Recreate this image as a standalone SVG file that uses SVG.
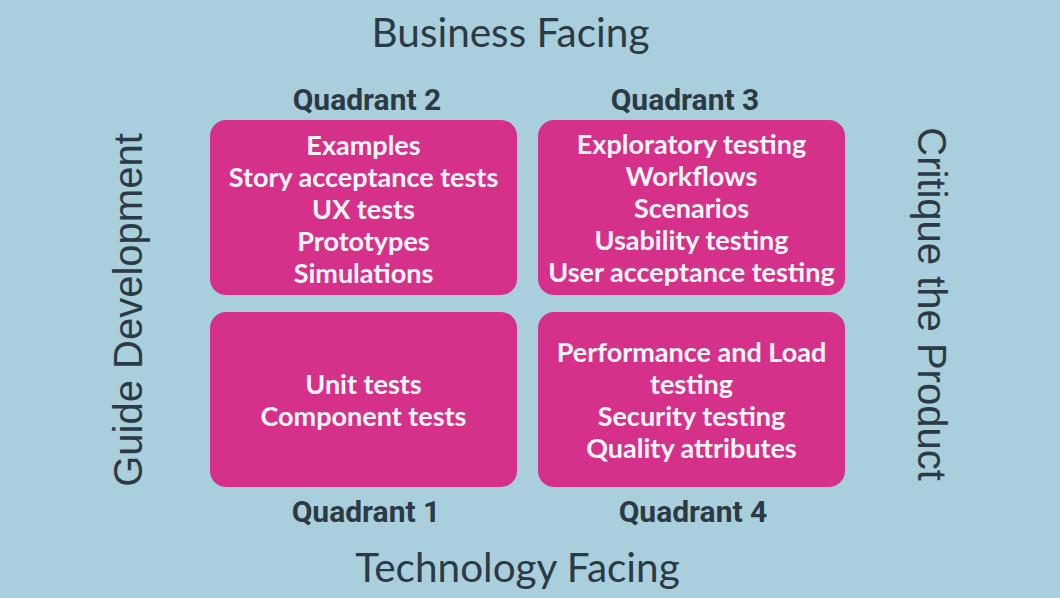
<svg xmlns="http://www.w3.org/2000/svg" width="1060" height="598" viewBox="0 0 1060 598">
<style>
.box{fill:#d6318a;}
.bt{font-family:Lato,"Noto Sans",sans-serif;font-weight:bold;font-size:27px;fill:#fff6fa;text-anchor:middle;}
.ql{font-family:Roboto,"Noto Sans",sans-serif;font-weight:bold;font-size:30px;fill:#2c3a45;text-anchor:middle;}
.ax{font-family:Lato,"Noto Sans",sans-serif;font-size:40.5px;fill:#2c3a45;text-anchor:middle;}
.sx{font-family:"Liberation Sans",Arial,sans-serif;font-size:40px;fill:#2c3a45;text-anchor:middle;}
</style>
<rect width="1060" height="598" fill="#a9cfdd"/>
<g id="axes">
<text class="ax" x="510.5" y="47">Business Facing</text>
<text class="ax" x="517.5" y="582">Technology Facing</text>
<text class="sx" transform="translate(142,310) rotate(-90)">Guide Development</text>
<text class="sx" transform="translate(918,304) rotate(90)" font-size="40.8">Critique the Product</text>
</g>
<g id="quadrant2">
<text class="ql" x="367" y="110">Quadrant 2</text>
<rect class="box" x="210" y="120" width="307" height="175" rx="16"/>
<text class="bt" x="363.5" y="155">Examples</text>
<text class="bt" x="363.5" y="187">Story acceptance tests</text>
<text class="bt" x="363.5" y="219">UX tests</text>
<text class="bt" x="363.5" y="251">Prototypes</text>
<text class="bt" x="363.5" y="283">Simulations</text>
</g>
<g id="quadrant3">
<text class="ql" x="685" y="110">Quadrant 3</text>
<rect class="box" x="538" y="120" width="307" height="175" rx="16"/>
<text class="bt" x="691.5" y="154">Exploratory testing</text>
<text class="bt" x="691.5" y="186">Workflows</text>
<text class="bt" x="691.5" y="218">Scenarios</text>
<text class="bt" x="691.5" y="250">Usability testing</text>
<text class="bt" x="691.5" y="282">User acceptance testing</text>
</g>
<g id="quadrant1">
<rect class="box" x="210" y="312" width="307" height="175" rx="16"/>
<text class="bt" x="363.5" y="394">Unit tests</text>
<text class="bt" x="363.5" y="426">Component tests</text>
<text class="ql" x="366" y="522">Quadrant 1</text>
</g>
<g id="quadrant4">
<rect class="box" x="538" y="312" width="307" height="175" rx="16"/>
<text class="bt" x="691.5" y="362">Performance and Load</text>
<text class="bt" x="691.5" y="394">testing</text>
<text class="bt" x="691.5" y="426">Security testing</text>
<text class="bt" x="691.5" y="458">Quality attributes</text>
<text class="ql" x="693" y="522">Quadrant 4</text>
</g>
<g id="connectors"/>
</svg>
